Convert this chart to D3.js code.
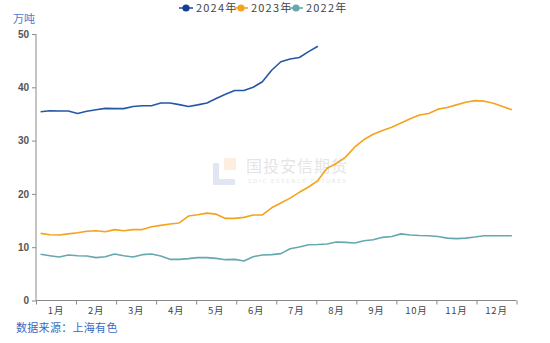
<!DOCTYPE html>
<html><head><meta charset="utf-8">
<script src="https://cdn.jsdelivr.net/npm/d3@7"></script>
<style>body{margin:0;background:#fff;}svg{display:block;font-family:"Noto Sans CJK SC","Noto Sans",sans-serif;}</style>
</head><body><svg id="c" width="550" height="343"></svg>
<script>
const months = ["1月","2月","3月","4月","5月","6月","7月","8月","9月","10月","11月","12月"];
const yTicks = [0,10,20,30,40,50];
const seriesNames = ["2024年","2023年","2022年"];
const seriesColors = ["#2557a7","#f5a31c","#66a8ae"];
const v2024 = [35.4,35.6,35.55,35.55,35.1,35.5,35.8,36.05,36.0,36.0,36.4,36.55,36.55,37.05,37.05,36.75,36.4,36.7,37.05,37.9,38.7,39.4,39.4,40.0,41.05,43.2,44.8,45.3,45.6,46.7,47.7];
const v2023 = [12.6,12.35,12.3,12.5,12.7,13.0,13.1,12.9,13.3,13.1,13.3,13.3,13.85,14.1,14.35,14.55,15.85,16.1,16.4,16.2,15.4,15.4,15.6,16.05,16.05,17.4,18.3,19.2,20.3,21.3,22.5,24.8,25.7,26.9,28.8,30.2,31.2,31.9,32.5,33.3,34.1,34.8,35.1,35.9,36.2,36.7,37.2,37.5,37.4,37.0,36.4,35.8];
const v2022 = [8.67,8.41,8.16,8.54,8.41,8.35,8.04,8.22,8.72,8.41,8.16,8.6,8.72,8.35,7.72,7.72,7.85,8.04,8.04,7.91,7.66,7.72,7.41,8.22,8.54,8.6,8.8,9.7,10.04,10.47,10.5,10.6,10.98,10.9,10.8,11.2,11.4,11.85,12.0,12.5,12.3,12.2,12.15,12.0,11.7,11.6,11.7,11.9,12.15,12.15,12.15,12.15];
const allSeries = [v2024, v2023, v2022];

const svg = d3.select("#c");
const x = d3.scaleLinear().domain([0,52]).range([36,516.5]);
const y = d3.scaleLinear().domain([0,50]).range([300.5,34]);

// watermark
const wm = svg.append("g").attr("opacity",0.55);
wm.append("rect").attr("x",224).attr("y",158).attr("width",12).attr("height",12).attr("fill","#fbe3c4");
wm.append("path").attr("d","M213,163 h6 v16 h16 v6 h-22 z").attr("fill","#c9d3ea");
wm.append("text").attr("x",246).attr("y",172).attr("font-size",16).attr("fill","#cfcfcf").attr("letter-spacing",1).text("国投安信期货");
wm.append("text").attr("x",248).attr("y",183).attr("font-size",5.5).attr("fill","#d0d0d0").attr("letter-spacing",1.6).attr("font-family","DejaVu Sans").text("SDIC ESSENCE FUTURES");

// y axis
const ya = svg.append("g").attr("transform","translate(36,0)")
  .call(d3.axisLeft(y).tickValues(yTicks).tickSize(4).tickPadding(3));
ya.select(".domain").attr("stroke","#8a8a8a").attr("d","M0,"+y(50)+"V"+y(0));
ya.selectAll(".tick line").attr("stroke","#8a8a8a");
ya.selectAll("text").attr("font-size",10).attr("font-weight","bold").attr("fill","#555").attr("font-family","Liberation Sans, Arial, sans-serif");

// x axis
const xa = svg.append("g").attr("transform","translate(0,300.5)")
  .call(d3.axisBottom(x).tickValues(d3.range(13).map(m=>m*52/12)).tickSize(4).tickFormat(""));
xa.select(".domain").attr("stroke","#8a8a8a").attr("d","M36,0H516.5");
xa.selectAll(".tick line").attr("stroke","#8a8a8a");
svg.append("g").selectAll("text").data(months).join("text")
  .attr("x",(d,i)=>x((i+0.5)*52/12)).attr("y",313.5).attr("text-anchor","middle")
  .attr("font-size",9.5).attr("fill","#444").attr("letter-spacing",0.8).text(d=>d);

// lines
const line = d3.line().x((d,i)=>x(i+0.5)).y(d=>y(d));
[2,1,0].forEach(k=>{
  svg.append("path").datum(allSeries[k]).attr("d",line).attr("fill","none")
    .attr("stroke",seriesColors[k]).attr("stroke-width",1.6).attr("stroke-linejoin","round");
});

// legend
const lx = [179,234,289];
const lg = svg.append("g");
seriesNames.forEach((n,i)=>{
  const g = lg.append("g").attr("transform","translate("+lx[i]+",8)");
  g.append("line").attr("x1",0).attr("x2",14).attr("stroke",seriesColors[i]).attr("stroke-width",1.6);
  g.append("circle").attr("cx",7).attr("r",3.6).attr("fill",i===0?"#143f95":seriesColors[i]);
  g.append("text").attr("x",17).attr("y",0).attr("dy","0.36em").attr("font-size",11).attr("fill","#444").attr("letter-spacing",1.2).text(n);
});

// unit & source
svg.append("text").attr("x",13).attr("y",23).attr("font-size",11).attr("fill","#4a78cf").text("万吨");
svg.append("text").attr("x",16).attr("y",332).attr("font-size",11).attr("fill","#3a6ac0").attr("letter-spacing",0.3).text("数据来源：上海有色");
</script></body></html>
